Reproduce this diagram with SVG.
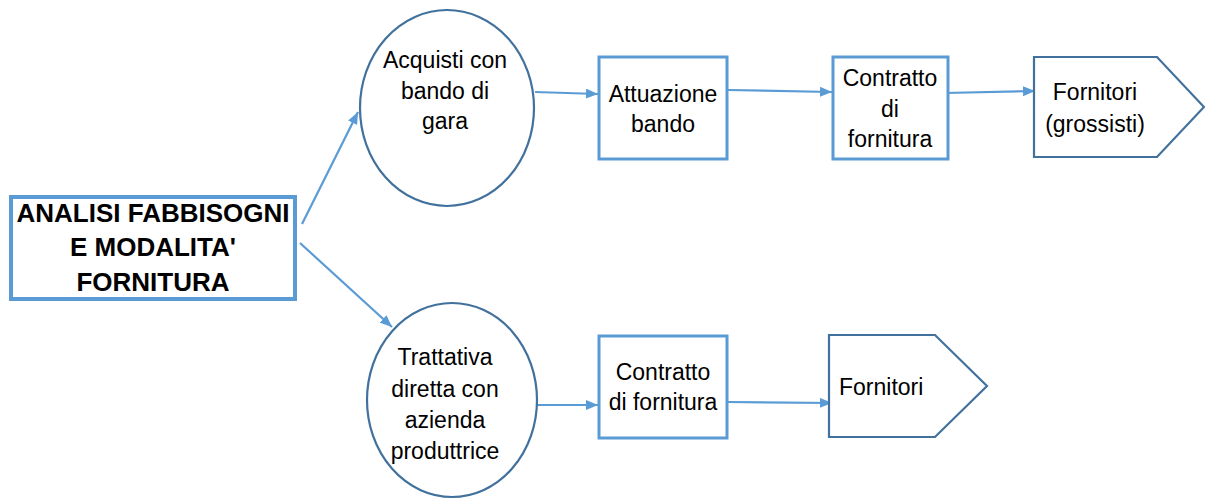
<svg xmlns="http://www.w3.org/2000/svg" width="1205" height="499" viewBox="0 0 1205 499">
<style>
text{font-family:"Liberation Sans",Arial,sans-serif;font-size:23px;fill:#000;text-anchor:middle}
.b{font-weight:bold;font-size:26px}
.box{fill:#fff;stroke:#5b9bd5;stroke-width:3}
.dk{fill:#fff;stroke:#41719c;stroke-width:2.2}
.c{stroke:#5b9bd5;stroke-width:2.2;fill:none;marker-end:url(#ah)}
</style>
<defs>
<marker id="ah" viewBox="0 0 12 10" refX="12" refY="5" markerWidth="12" markerHeight="10" markerUnits="userSpaceOnUse" orient="auto">
<path d="M0,0 L12,5 L0,10 Z" fill="#5b9bd5"/>
</marker>
</defs>
<g id="connectors">
<line class="c" x1="302" y1="224" x2="358" y2="112"/>
<line class="c" x1="300" y1="243" x2="392" y2="327"/>
<line class="c" x1="535" y1="92" x2="598" y2="94"/>
<line class="c" x1="728" y1="90" x2="832" y2="92"/>
<line class="c" x1="945" y1="93" x2="1035" y2="91"/>
<line class="c" x1="537" y1="405" x2="598" y2="405"/>
<line class="c" x1="728" y1="402" x2="832" y2="403"/>
</g>
<g id="analisi">
<rect x="11" y="197" width="284" height="102" fill="#fff" stroke="#5b9bd5" stroke-width="4"/>
<text class="b" x="153" y="222">ANALISI FABBISOGNI</text>
<text class="b" x="153" y="256">E MODALITA'</text>
<text class="b" x="153" y="291">FORNITURA</text>
</g>
<g id="acquisti">
<ellipse class="dk" cx="447" cy="108" rx="87" ry="98"/>
<text x="445" y="68">Acquisti con</text>
<text x="445" y="99">bando di</text>
<text x="445" y="129">gara</text>
</g>
<g id="attuazione">
<rect class="box" x="599" y="57" width="128" height="102"/>
<text x="663" y="102">Attuazione</text>
<text x="663" y="132">bando</text>
</g>
<g id="contratto1">
<rect class="box" x="833" y="57" width="115" height="102"/>
<text x="890" y="86">Contratto</text>
<text x="890" y="117">di</text>
<text x="890" y="147">fornitura</text>
</g>
<g id="fornitori1">
<path class="dk" d="M1034,57 L1157,57 L1204,107 L1157,157 L1034,157 Z"/>
<text x="1095" y="100">Fornitori</text>
<text x="1095" y="132">(grossisti)</text>
</g>
<g id="trattativa">
<ellipse class="dk" cx="452" cy="400" rx="85" ry="97"/>
<text x="445" y="365">Trattativa</text>
<text x="445" y="397">diretta con</text>
<text x="445" y="428">azienda</text>
<text x="445" y="459">produttrice</text>
</g>
<g id="contratto2">
<rect class="box" x="599" y="336" width="128" height="102"/>
<text x="663" y="380">Contratto</text>
<text x="663" y="410">di fornitura</text>
</g>
<g id="fornitori2">
<path class="dk" d="M829,335 L935,335 L987,386 L935,437 L829,437 Z"/>
<text x="839" y="395" style="text-anchor:start">Fornitori</text>
</g>
</svg>
